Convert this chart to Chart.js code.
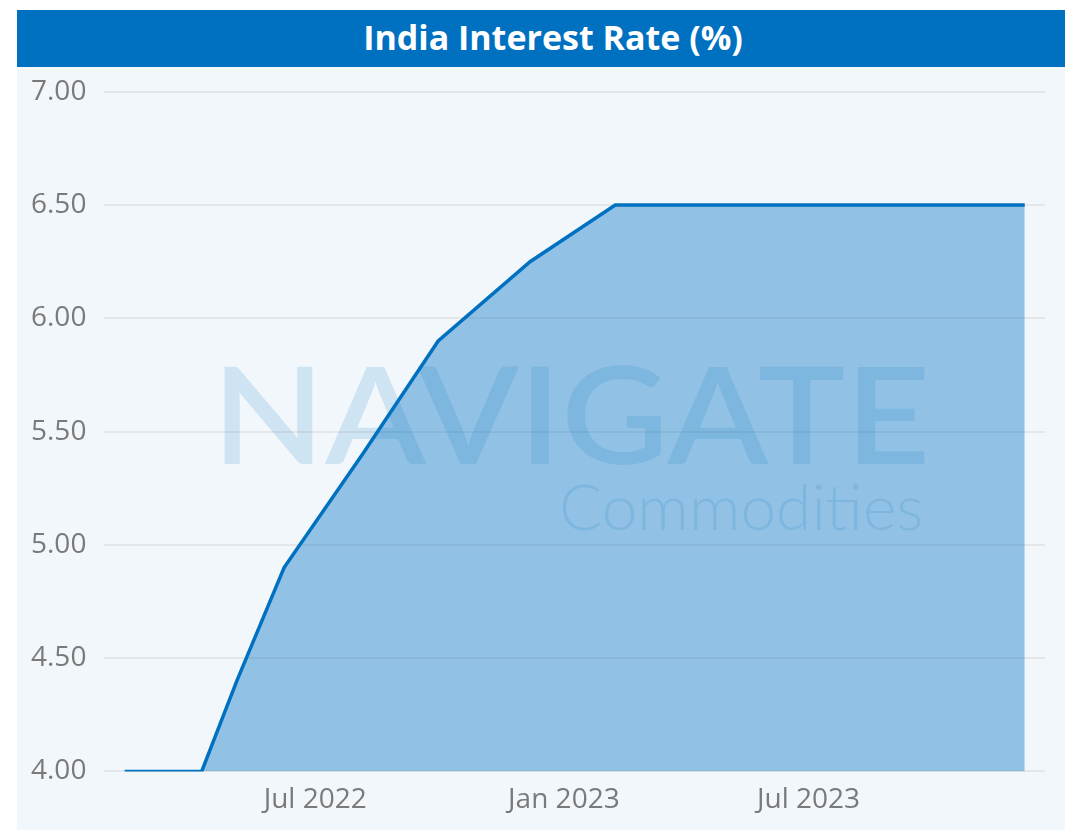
<!DOCTYPE html>
<html>
<head>
<meta charset="utf-8">
<script src="https://cdn.jsdelivr.net/npm/chart.js@4.4.0/dist/chart.umd.min.js"></script>
<style>
  html, body { margin: 0; padding: 0; background: #ffffff; }
  #wrap { position: absolute; left: 17px; top: 10px; width: 1048px; height: 820px; background: #f2f7fc; }
  #title { height: 57px; background: #0070c0; color: #fff; font-family: "Open Sans", sans-serif; font-weight: 700;
           font-size: 34px; line-height: 55px; text-align: center; padding-left: 24px; }
  #box { position: relative; width: 1048px; height: 773px; margin-top: -10px; }
</style>
</head>
<body>
<div id="wrap">
  <div id="title">India Interest Rate (%)</div>
  <div id="box"><canvas id="myChart"></canvas></div>
</div>
<script>
// RBI repo rate, policy dates
let dates = ["2022-02-10", "2022-04-08", "2022-05-04", "2022-06-08", "2022-08-05", "2022-09-30",
    "2022-12-07", "2023-02-08", "2023-04-06", "2023-06-08", "2023-08-10", "2023-10-06", "2023-12-08"];
let rates = [4.00, 4.00, 4.40, 4.90, 5.40, 5.90, 6.25, 6.50, 6.50, 6.50, 6.50, 6.50, 6.50];
let tickDates = ["2022-07-01", "2023-01-01", "2023-07-01"];
let tickLabels = ["Jul 2022", "Jan 2023", "Jul 2023"];

function dayNum(s) {
    let p = s.split("-");
    return (Date.UTC(+p[0], +p[1] - 1, +p[2]) - Date.UTC(2022, 0, 1)) / 86400000;
}

let points = [];
for (let i = 0; i < dates.length; i++) {
    points.push({ x: dayNum(dates[i]), y: rates[i] });
}
let tickDays = tickDates.map(dayNum);

const watermark = {
    id: "watermark",
    afterDatasetsDraw(chart) {
        const c = chart.ctx;
        c.save();
        c.fillStyle = "rgba(0,112,192,0.14)";
        c.textBaseline = "alphabetic";
        c.textAlign = "left";
        c.font = "300 64px Lato, sans-serif";
        c.fillText("Commodities", 542, 473);
        c.translate(195, 407);
        c.scale(1.09, 1);
        c.font = "600 135px Lato, sans-serif";
        c.fillText("NAVIGATE", 0, 0);
        c.restore();
    }
};

const ctx = document.getElementById("myChart").getContext("2d");
const myChart = new Chart(ctx, {
    type: "line",
    data: {
        datasets: [{
            data: points,
            borderColor: "#0070c0",
            borderWidth: 3.5,
            backgroundColor: "rgba(0,112,192,0.4)",
            fill: "start",
            pointRadius: 0,
            tension: 0,
        }],
    },
    options: {
        responsive: true,
        maintainAspectRatio: false,
        animation: false,
        layout: { padding: { left: -4, right: 20, top: 0, bottom: 1 } },
        plugins: { legend: { display: false }, tooltip: { enabled: false } },
        scales: {
            x: {
                type: "linear",
                min: 25,
                max: 721,
                grid: { display: false, tickLength: 0 },
                border: { display: false },
                afterBuildTicks: (axis) => {
                    axis.ticks = tickDays.map((v) => ({ value: v }));
                },
                ticks: {
                    autoSkip: false,
                    maxRotation: 0,
                    padding: 12,
                    color: "#7a7a7a",
                    font: { family: "Open Sans", size: 28 },
                    callback: (v) => tickLabels[tickDays.indexOf(v)],
                },
            },
            y: {
                min: 4,
                max: 7,
                border: { display: false },
                grid: { color: "#e4e6e8", lineWidth: 2, drawTicks: false, tickLength: 0 },
                ticks: {
                    stepSize: 0.5,
                    padding: 18,
                    color: "#7a7a7a",
                    font: { family: "Open Sans", size: 28 },
                    callback: (v) => v.toFixed(2),
                },
            },
        },
    },
    plugins: [watermark],
});
</script>
</body>
</html>
